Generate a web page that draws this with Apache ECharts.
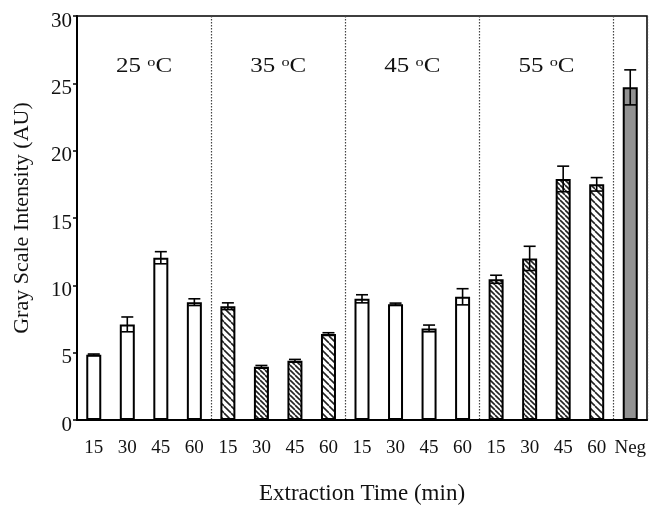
<!DOCTYPE html>
<html>
<head>
<meta charset="utf-8">
<script src="https://cdn.jsdelivr.net/npm/echarts@6/dist/echarts.min.js"></script>
<style>
  html, body { margin: 0; padding: 0; background: #fff; }
  #chart { width: 659px; height: 510px; }
</style>
</head>
<body>
<div id="chart"></div>
<script>
const categories = ['15', '30', '45', '60', '15', '30', '45', '60', '15', '30', '45', '60', '15', '30', '45', '60', 'Neg'];
const means = [4.85, 7.1, 12.05, 8.75, 8.45, 3.95, 4.4, 6.38, 9.0, 8.6, 6.8, 9.15, 10.45, 12.0, 17.9, 17.5, 24.7];
const errors = [0.05, 0.55, 0.45, 0.25, 0.25, 0.1, 0.1, 0.1, 0.3, 0.08, 0.25, 0.6, 0.3, 0.9, 0.95, 0.5, 1.3];
const fills = ['plain', 'plain', 'plain', 'plain', 'wide', 'hatch', 'hatch', 'wide', 'plain', 'plain', 'plain', 'plain', 'hatch', 'hatch', 'hatch', 'wide', 'neg'];
const groupLabels = ['25', '35', '45', '55'];

function makeHatch(s) {
    const c = document.createElement('canvas');
    c.width = s; c.height = s;
    const ctx = c.getContext('2d');
    ctx.fillStyle = '#fff';
    ctx.fillRect(0, 0, s, s);
    ctx.strokeStyle = '#222';
    ctx.lineWidth = 1.6;
    for (let k of [-s, 0, s]) {
        ctx.beginPath();
        ctx.moveTo(k, 0);
        ctx.lineTo(k + s, s);
        ctx.stroke();
    }
    return { image: c, repeat: 'repeat' };
}

const fillColors = {
    plain: '#fff',
    hatch: makeHatch(5),
    wide: makeHatch(7),
    neg: '#929292'
};

const myChart = echarts.init(document.getElementById('chart'));

const barData = means.map((v, i) => ({
    value: v,
    itemStyle: { color: fillColors[fills[i]] }
}));
const errData = means.map((v, i) => [i, v, errors[i]]);

const font = 'Liberation Serif, Times New Roman, serif';

const option = {
    animation: false,
    backgroundColor: '#fff',
    grid: {
        left: 77, right: 12, top: 16, bottom: 88,
        show: true, borderColor: '#000', borderWidth: 1.5,
        containLabel: false
    },
    xAxis: {
        type: 'category',
        data: categories,
        name: 'Extraction Time (min)',
        nameLocation: 'middle',
        nameGap: 62,
        nameTextStyle: { fontFamily: font, fontSize: 23, color: '#111' },
        axisLine: { lineStyle: { color: '#000', width: 2 } },
        axisTick: { show: false },
        axisLabel: { fontFamily: font, fontSize: 19, color: '#111', margin: 19, interval: 0 },
        splitLine: {
            show: true,
            interval: (i) => i === 4 || i === 8 || i === 12 || i === 16,
            lineStyle: { color: '#444', type: [1.5, 1.5], width: 1.2 }
        }
    },
    yAxis: {
        type: 'value',
        min: 0, max: 30, interval: 5,
        name: 'Gray Scale Intensity (AU)',
        nameLocation: 'middle',
        nameGap: 44,
        nameTextStyle: { fontFamily: font, fontSize: 22, color: '#111' },
        axisLine: { show: true, lineStyle: { color: '#000', width: 2 } },
        axisTick: { show: true, length: 4, lineStyle: { color: '#000', width: 1.5 } },
        axisLabel: { fontFamily: font, fontSize: 21, color: '#111', margin: 5, verticalAlign: 'top', lineHeight: 10 },
        splitLine: { show: false }
    },
    series: [
        {
            type: 'bar',
            data: barData,
            barWidth: 15,
            itemStyle: { borderColor: '#000', borderWidth: 2 }
        },
        {
            type: 'custom',
            data: errData,
            encode: { x: 0, y: 1 },
            z: 5,
            renderItem: function (params, api) {
                const i = api.value(0), m = api.value(1), e = api.value(2);
                const hi = api.coord([i, m + e]);
                const lo = api.coord([i, m - e]);
                const w = 6;
                const style = { stroke: '#000', lineWidth: 1.6 };
                return {
                    type: 'group',
                    children: [
                        { type: 'line', shape: { x1: hi[0], y1: hi[1], x2: lo[0], y2: lo[1] }, style },
                        { type: 'line', shape: { x1: hi[0] - w, y1: hi[1], x2: hi[0] + w, y2: hi[1] }, style },
                        { type: 'line', shape: { x1: lo[0] - w, y1: lo[1], x2: lo[0] + w, y2: lo[1] }, style }
                    ]
                };
            }
        }
    ]
};

myChart.setOption(option);

// temperature labels over each group of four bars
const graphics = groupLabels.map((t, g) => {
    const a = myChart.convertToPixel({ xAxisIndex: 0, yAxisIndex: 0 }, [g * 4 + 1, 26.2]);
    const b = myChart.convertToPixel({ xAxisIndex: 0, yAxisIndex: 0 }, [g * 4 + 2, 26.2]);
    return {
        type: 'text',
        x: (a[0] + b[0]) / 2,
        y: a[1],
        scaleX: 1.25,
        style: {
            text: t + ' {sup|o}C',
            font: '20px ' + font,
            fill: '#111',
            align: 'center',
            verticalAlign: 'middle',
            rich: {
                sup: { fontSize: 13, fontFamily: font, verticalAlign: 'top', padding: [0, 0, 9, 0], fill: '#111' }
            }
        }
    };
});
myChart.setOption({ graphic: graphics });
</script>
</body>
</html>
